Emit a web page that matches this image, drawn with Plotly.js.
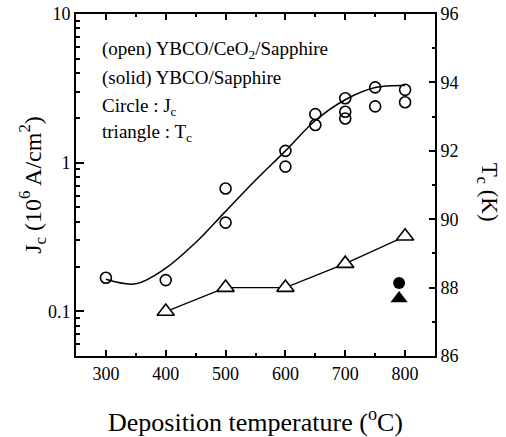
<!DOCTYPE html>
<html>
<head>
<meta charset="utf-8">
<script src="https://cdn.plot.ly/plotly-3.0.1.min.js"></script>
<style>html,body{margin:0;padding:0;background:#fff;}#chart{width:506px;height:437px;}</style>
</head>
<body>
<div id="chart"></div>
<script>
// Jc (open circles, YBCO/CeO2/Sapphire), 10^6 A/cm^2
const jcTemp = [300, 400, 500, 500, 600, 600, 650, 650, 700, 700, 700, 750, 750, 800, 800];
const jcValue = [0.168, 0.162, 0.67, 0.395, 1.2, 0.94, 2.12, 1.79, 2.71, 2.2, 1.98, 3.21, 2.39, 3.09, 2.55];
// smooth guide curve through Jc data
const fitTemp = [300, 350, 400, 450, 500, 550, 600, 650, 700, 750, 800];
const fitValue = [0.164, 0.153, 0.195, 0.29, 0.47, 0.76, 1.2, 1.92, 2.65, 3.2, 3.3];
// Tc (open triangles), K
const tcTemp = [400, 500, 600, 700, 800];
const tcValue = [87.3, 88.0, 88.0, 88.7, 89.5];
// solid symbols: YBCO/Sapphire
const solidTemp = [790];
const solidJc = [0.155];
const solidTc = [87.68];
// tick labels
const jcTicks = [0.1, 1, 10];
const jcTickText = ['0.1', '1', '10'];
const jcMinorTicks = [0.05, 0.06, 0.07, 0.08, 0.09, 0.2, 0.3, 0.4, 0.5, 0.6, 0.7, 0.8, 0.9, 2, 3, 4, 5, 6, 7, 8, 9];

const font = '"Liberation Serif", "Times New Roman", Times, serif';

const traces = [
  {x: fitTemp, y: fitValue, mode: 'lines', line: {color: '#000', width: 1.5, shape: 'spline', smoothing: 1}, yaxis: 'y', hoverinfo: 'skip'},
  {x: jcTemp, y: jcValue, mode: 'markers', marker: {symbol: 'circle-open', size: 11, color: '#000', line: {width: 1.6, color: '#000'}}, yaxis: 'y'},
  {x: tcTemp, y: tcValue, mode: 'lines+markers', line: {color: '#000', width: 1.3}, marker: {symbol: 'triangle-up', size: 15, color: '#fff', line: {width: 1.6, color: '#000'}}, yaxis: 'y2'},
  {x: solidTemp, y: solidJc, mode: 'markers', marker: {symbol: 'circle', size: 12, color: '#000'}, yaxis: 'y'},
  {x: solidTemp, y: solidTc, mode: 'markers', marker: {symbol: 'triangle-up', size: 15, color: '#000'}, yaxis: 'y2'}
];

const annFont = {family: font, size: 19, color: '#000'};
const tickFont = {family: font, size: 18, color: '#000'};
const layout = {
  width: 506, height: 437,
  margin: {l: 76, r: 71, t: 14, b: 81},
  paper_bgcolor: '#fff', plot_bgcolor: '#fff',
  showlegend: false,
  font: {family: font, size: 18, color: '#000'},
  xaxis: {
    range: [250, 850], dtick: 100, tick0: 300,
    ticks: 'inside', ticklen: 6, tickwidth: 1.5, tickcolor: '#000',
    minor: {dtick: 50, ticks: 'inside', ticklen: 3, tickwidth: 1.5, tickcolor: '#000'},
    showline: true, linewidth: 2, linecolor: '#000', mirror: 'ticks',
    showgrid: false, zeroline: false,
    tickfont: tickFont,
    title: {text: 'Deposition temperature (<sup>o</sup>C)', font: {family: font, size: 26, color: '#000'}, standoff: 31},
    automargin: false
  },
  yaxis: {
    type: 'log', range: [Math.log10(0.05), 1],
    tickmode: 'array', tickvals: jcTicks, ticktext: jcTickText,
    ticks: 'inside', ticklen: 8, tickwidth: 1.5, tickcolor: '#000',
    minor: {tickmode: 'array', tickvals: jcMinorTicks, ticks: 'inside', ticklen: 4, tickwidth: 1.5, tickcolor: '#000'},
    showline: true, linewidth: 2, linecolor: '#000',
    showgrid: false, zeroline: false,
    tickfont: tickFont,
    title: {text: 'J<sub>c</sub> (10<sup>6</sup> A/cm<sup>2</sup>)', font: {family: font, size: 24, color: '#000'}, standoff: 0},
    automargin: false
  },
  yaxis2: {
    overlaying: 'y', side: 'right', range: [86, 96], dtick: 2,
    ticks: 'inside', ticklen: 6, tickwidth: 1.5, tickcolor: '#000',
    minor: {dtick: 1, ticks: 'inside', ticklen: 3, tickwidth: 1.5, tickcolor: '#000'},
    showline: true, linewidth: 2, linecolor: '#000',
    showgrid: false, zeroline: false,
    tickfont: tickFont,
    automargin: false
  },
  annotations: [
    {xref: 'paper', yref: 'paper', x: 0.067, y: 0.895, xanchor: 'left', yanchor: 'middle', showarrow: false, text: '(open) YBCO/CeO<sub>2</sub>/Sapphire', font: annFont},
    {xref: 'paper', yref: 'paper', x: 0.067, y: 0.813, xanchor: 'left', yanchor: 'middle', showarrow: false, text: '(solid) YBCO/Sapphire', font: annFont},
    {xref: 'paper', yref: 'paper', x: 0.067, y: 0.728, xanchor: 'left', yanchor: 'middle', showarrow: false, text: 'Circle : J<sub>c</sub>', font: annFont},
    {xref: 'paper', yref: 'paper', x: 0.067, y: 0.652, xanchor: 'left', yanchor: 'middle', showarrow: false, text: 'triangle : T<sub>c</sub>', font: annFont},
    {xref: 'paper', yref: 'paper', x: 1.148, y: 0.48, xanchor: 'center', yanchor: 'middle', showarrow: false, textangle: 90, text: 'T<sub>c</sub> (K)', font: {family: font, size: 23, color: '#000'}}
  ]
};

Plotly.newPlot('chart', traces, layout, {displayModeBar: false});
</script>
</body>
</html>
